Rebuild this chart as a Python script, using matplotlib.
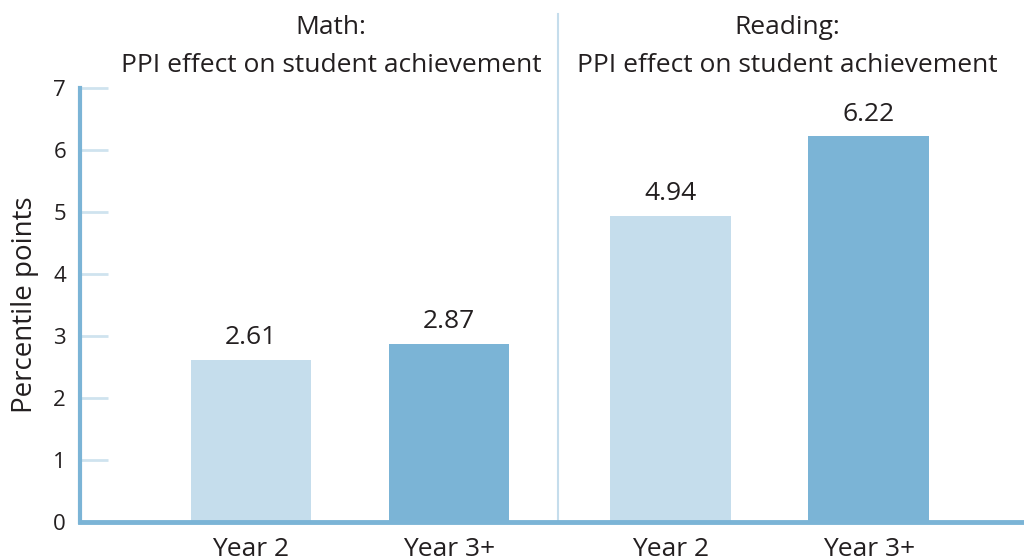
import matplotlib
matplotlib.use("Agg")
import matplotlib.pyplot as plt

plt.rcParams["font.family"] = ["Open Sans", "DejaVu Sans"]

categories = ["Year 2", "Year 3+", "Year 2", "Year 3+"]
values = [2.61, 2.87, 4.94, 6.22]
subjects = ["Math:", "Reading:"]
subtitle = "PPI effect on student achievement"

positions = [0, 1, 2.12, 3.12]
light = "#c5ddec"
dark = "#7bb4d6"
bar_colors = [light, dark, light, dark]
text_color = "#231f20"

fig = plt.figure(figsize=(10.24, 5.59), dpi=100)
ax = fig.add_axes([80 / 1024, 37 / 559, 944 / 1024, 434 / 559])

ax.bar(positions, values, width=0.61, color=bar_colors, zorder=2)

for x, v in zip(positions, values):
    ax.annotate(f"{v:.2f}", (x, v), xytext=(0, 7), textcoords="offset points",
                ha="center", va="bottom", fontsize=19, color=text_color)

ax.set_xlim(-0.864, 3.904)
ax.set_ylim(0, 7)

# divider between the two panels
ax.plot([1.55, 1.55], [0, 8.2], color="#c5ddec", lw=1.5, clip_on=False)

# panel titles
title_x = [0.404, 2.707]
for tx, s in zip(title_x, subjects):
    ax.text(tx, 7.97, s, ha="center", va="center", fontsize=19, color=text_color)
    ax.text(tx, 7.37, subtitle, ha="center", va="center", fontsize=19, color=text_color)

for side in ["top", "right"]:
    ax.spines[side].set_visible(False)
ax.spines["left"].set_color(dark)
ax.spines["left"].set_linewidth(3)
ax.spines["bottom"].set_color(dark)
ax.spines["bottom"].set_linewidth(3.5)
ax.spines["bottom"].set_zorder(3)

ax.set_yticks(range(0, 8))
ax.tick_params(axis="y", direction="in", length=20, width=2, color="#cfe3ef",
               pad=10, labelsize=16, labelcolor=text_color)
ax.set_xticks(positions)
ax.set_xticklabels(categories)
ax.tick_params(axis="x", length=0, pad=11, labelsize=19, labelcolor=text_color)

ax.set_ylabel("Percentile points", fontsize=20, color=text_color, labelpad=10)

fig.savefig("out.png", dpi=100)
